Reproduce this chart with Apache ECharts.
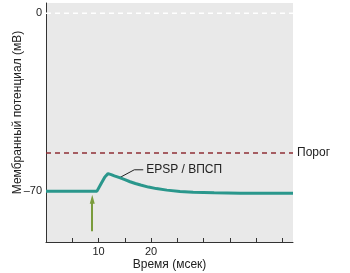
<!DOCTYPE html>
<html><head><meta charset="utf-8">
<script src="https://cdn.jsdelivr.net/npm/echarts@6/dist/echarts.min.js"></script>
<style>html,body{margin:0;padding:0;background:#fff}#c{width:350px;height:273px}</style>
</head><body><div id="c"></div>
<script>
// Data
const epspTime = [0, 9.7, 10.5, 11.2, 11.8, 12.4, 13, 14, 15, 16, 17, 18, 19.5, 21, 23, 25.5, 28, 32, 37, 47];
const epspMv   = [-70, -70, -67, -64.4, -63.1, -63.5, -64.0, -64.7, -65.5, -66.3, -67.0, -67.6, -68.4, -69.0, -69.6, -70.1, -70.4, -70.6, -70.8, -70.8];
const thresholdMv = -55;
const zeroMv = 0;
const timeRange = [0, 47];
const mvRange = [-90, 4];
const xTickValues = [5, 10, 15, 20, 25, 30, 35, 40, 45];
const xLabelValues = [10, 20];
const yLabelValues = [0, -70];
const stimTime = 8.8;
const stimMv = [-85.8, -73.2];
const leaderTime = [14.0, 16.8, 18.5];
const leaderMv = [-64.7, -61.6, -61.6];
const epspLabel = 'EPSP / ВПСП';
const thresholdLabel = 'Порог';

const font = 'Liberation Sans, Arial, sans-serif';
const chart = echarts.init(document.getElementById('c'), null, {renderer: 'canvas'});
chart.setOption({
  animation: false,
  grid: {left: 46, right: 57, top: 3, bottom: 31, show: true, backgroundColor: '#e9e9e9', borderWidth: 0,
         containLabel: false, outerBoundsMode: 'none'},
  xAxis: {
    type: 'value', min: timeRange[0], max: timeRange[1],
    name: 'Время (мсек)', nameLocation: 'middle', nameGap: 17, nameMoveOverlap: false,
    nameTextStyle: {fontFamily: font, fontSize: 12, color: '#222'},
    axisLine: {show: true, onZero: false, lineStyle: {color: '#333', width: 1}},
    axisTick: {show: true, inside: true, length: 4, customValues: xTickValues, lineStyle: {color: '#333'}},
    axisLabel: {customValues: xLabelValues, fontFamily: font, fontSize: 11, color: '#222', margin: 4},
    splitLine: {show: false}
  },
  yAxis: {
    type: 'value', min: mvRange[0], max: mvRange[1],
    name: 'Мембранный потенциал (мВ)', nameLocation: 'middle', nameGap: 22, nameMoveOverlap: false,
    nameTextStyle: {fontFamily: font, fontSize: 12, color: '#222', padding: [0, 0, 0, 20]},
    axisLine: {show: true, onZero: false, lineStyle: {color: '#333', width: 1}},
    axisTick: {show: false},
    axisLabel: {customValues: yLabelValues, fontFamily: font, fontSize: 11, color: '#222', margin: 4,
      formatter: v => v < 0 ? '–' + Math.abs(v) : String(v)},
    splitLine: {show: false}
  },
  series: [
    {
      type: 'line', data: [[timeRange[0], zeroMv], [timeRange[1], zeroMv]],
      symbol: 'none', lineStyle: {color: '#ffffff', width: 1.5, type: [5, 4]}, silent: true
    },
    {
      type: 'line', data: [[timeRange[0], thresholdMv], [timeRange[1], thresholdMv]],
      symbol: 'none', lineStyle: {color: '#8e2f36', width: 1.6, type: [5, 4]}, silent: true,
      endLabel: {show: true, formatter: thresholdLabel, fontFamily: font, fontSize: 12, color: '#222', distance: 4}
    },
    {
      type: 'line', data: leaderTime.map((t, i) => [t, leaderMv[i]]),
      symbol: 'none', lineStyle: {color: '#222', width: 1}, silent: true,
      endLabel: {show: true, formatter: epspLabel, fontFamily: font, fontSize: 12, color: '#222', distance: 3}
    },
    {
      type: 'line', data: epspTime.map((t, i) => [t, epspMv[i]]),
      symbol: 'none', lineStyle: {color: '#2a978c', width: 3}, silent: true, z: 5
    },
    {
      type: 'line', data: [], silent: true,
      markLine: {
        silent: true, symbol: ['none', 'triangle'], symbolSize: [5, 9],
        label: {show: false},
        lineStyle: {color: '#7a9c3c', width: 2, type: 'solid'},
        data: [[{coord: [stimTime, stimMv[0]]}, {coord: [stimTime, stimMv[1]]}]]
      }
    }
  ]
});
</script></body></html>
